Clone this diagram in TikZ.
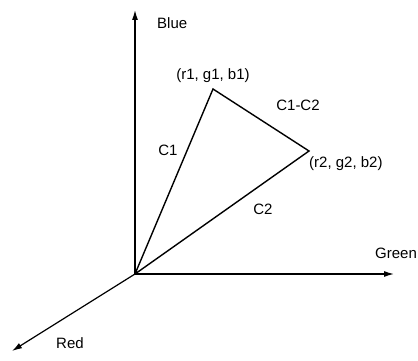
\documentclass[tikz,border=0pt]{standalone}
\usepackage{fontspec}
\setmainfont{Liberation Sans}
\usetikzlibrary{arrows.meta}
\begin{document}
\begin{tikzpicture}[x=1pt,y=-1pt,
  axis/.style={line width=1.2pt,-{Latex[length=10pt,width=6pt]}},
  edge/.style={line width=1.4pt},
  lbl/.style={font=\fontsize{15}{17}\selectfont,inner sep=0pt}]
\useasboundingbox (0,0) rectangle (418,361);
\coordinate (O) at (135,274);
\coordinate (B) at (135,10);
\coordinate (G) at (394,274);
\coordinate (R) at (12,351);
\coordinate (P1) at (213,89);
\coordinate (P2) at (309,151);
\draw[axis] (O) -- (B);
\draw[axis] (O) -- (G);
\draw[axis] (O) -- (R);
\draw[edge,line join=miter] (O) -- (P1) -- (P2) -- (O);
\node[lbl,anchor=west] (lb) at (157,23) {Blue};
\node[lbl] (lp1) at (213,76) {(r1, g1, b1)};
\node[lbl] (lc12) at (298,105) {C1-C2};
\node[lbl] (lc1) at (168,150) {C1};
\node[lbl,anchor=west] (lp2) at (309,164) {(r2, g2, b2)};
\node[lbl] (lc2) at (263,209) {C2};
\node[lbl,anchor=west] (lg) at (375,253) {Green};
\node[lbl] (lr) at (70,343) {Red};
\end{tikzpicture}
\end{document}
